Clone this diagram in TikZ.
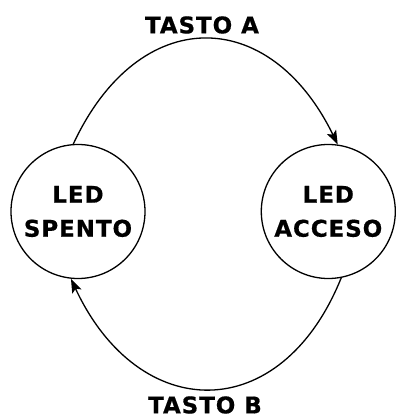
\documentclass[tikz,border=0pt]{standalone}
\usepackage{fontspec}
\newfontfamily\ledfont[LetterSpace=4, FakeBold=0.6]{DejaVu Sans Bold}
\usepackage{tikz}
\usetikzlibrary{positioning,arrows.meta}

\begin{document}
\begin{tikzpicture}[x=1pt, y=1pt,
  state/.style={circle, draw, line width=1.3pt, minimum size=134pt,
                inner sep=0pt, align=center,
                font=\ledfont\fontsize{23}{34}\selectfont},
  trans/.style={line width=1.3pt, -{Stealth[length=14pt, width=10pt, inset=3pt]}},
  lbl/.style={inner sep=0pt, font=\ledfont\fontsize{23}{34}\selectfont},
  node distance=115pt
]
  \useasboundingbox (0,0) rectangle (397,418);
  % states
  \node[state] (spento) at (78,206.5) {LED\\SPENTO};
  \node[state, right=of spento] (acceso) {LED\\ACCESO};
  % key labels
  \node[lbl] (tastoA) at (202,393) {TASTO A};
  \node[lbl] (tastoB) at (205,13) {TASTO B};
  % transitions
  \draw[trans] (spento.94) to[out=65, in=116, looseness=1.5] (acceso.82);
  \draw[trans] (acceso.-79) to[out=-112, in=-65, looseness=1.52] (spento.-96);
\end{tikzpicture}
\end{document}
